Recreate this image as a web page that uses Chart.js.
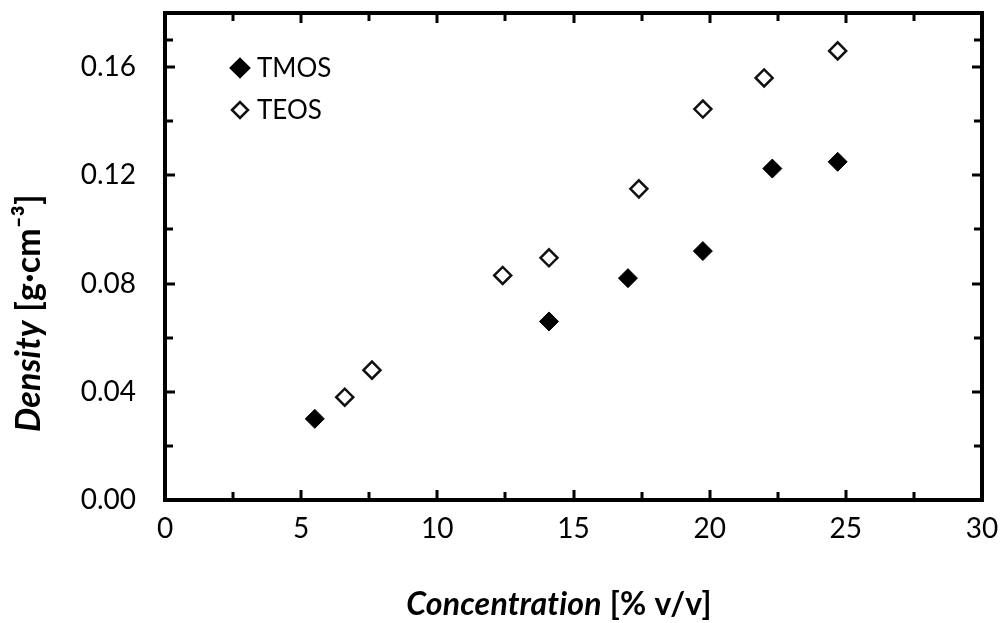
<!DOCTYPE html>
<html>
<head>
<meta charset="utf-8">
<script src="https://cdn.jsdelivr.net/npm/chart.js@4"></script>
<style>
  html, body { margin: 0; padding: 0; background: #fff; }
  #wrap { width: 1000px; height: 623px; }
</style>
</head>
<body>
<div id="wrap"><canvas id="chart"></canvas></div>
<script>
// data
const seriesNames = ['TMOS', 'TEOS'];
const tmosX = [5.5, 14.1, 17.0, 19.75, 22.3, 24.7];
const tmosY = [0.030, 0.066, 0.082, 0.092, 0.1225, 0.125];
const teosX = [6.6, 7.6, 12.4, 14.1, 17.4, 19.75, 22.0, 24.7];
const teosY = [0.038, 0.048, 0.083, 0.0895, 0.115, 0.1445, 0.156, 0.166];
const xTicks = [0, 5, 10, 15, 20, 25, 30];
const yTicks = [0, 0.04, 0.08, 0.12, 0.16];
const xTitle = ['Concentration', ' [% v/v]'];
const yTitle = ['Density', ' [g\u00b7cm\u207b\u00b3]'];

const FONT = 'Lato, "Noto Sans", sans-serif';

const toPoints = (xs, ys) => xs.map((x, i) => ({ x: x, y: ys[i] }));

// keep chart area fixed: drop the label overflow padding chart.js adds
const noPad = s => { s.paddingLeft = s.paddingRight = s.paddingTop = s.paddingBottom = 0; };

// box frame, inward ticks on all four sides, legend and two-style axis titles
const framePlugin = {
  id: 'frame',
  afterDraw(chart) {
    const ctx = chart.ctx;
    const a = chart.chartArea;
    const xs = chart.scales.x, ys = chart.scales.y;
    ctx.save();
    ctx.strokeStyle = '#000';
    ctx.lineCap = 'butt';

    // ticks (major at labels, minor halfway)
    ctx.lineWidth = 3;
    const xt = [];
    xTicks.forEach((v, i) => {
      xt.push([v, 10]);
      if (i < xTicks.length - 1) xt.push([(v + xTicks[i + 1]) / 2, 8]);
    });
    xt.forEach(([v, len]) => {
      const px = Math.round(xs.getPixelForValue(v));
      ctx.beginPath();
      ctx.moveTo(px, a.bottom); ctx.lineTo(px, a.bottom - len);
      ctx.moveTo(px, a.top); ctx.lineTo(px, a.top + len);
      ctx.stroke();
    });
    const yt = [];
    yTicks.forEach((v, i) => {
      yt.push([v, 10]);
      const next = i < yTicks.length - 1 ? yTicks[i + 1] : ys.max;
      yt.push([(v + next) / 2, 8]);
    });
    yt.forEach(([v, len]) => {
      const py = Math.round(ys.getPixelForValue(v));
      ctx.beginPath();
      ctx.moveTo(a.left, py); ctx.lineTo(a.left + len, py);
      ctx.moveTo(a.right, py); ctx.lineTo(a.right - len, py);
      ctx.stroke();
    });

    // frame
    ctx.lineWidth = 4;
    ctx.strokeRect(a.left, a.top, a.right - a.left, a.bottom - a.top);

    // legend
    ctx.font = '26px ' + FONT;
    ctx.textBaseline = 'middle';
    ctx.textAlign = 'left';
    ctx.fillStyle = '#000';
    chart.data.datasets.forEach((ds, i) => {
      const cx = 240, cy = 68 + i * 42;
      Chart.helpers.drawPoint(ctx, {
        pointStyle: 'rectRot', radius: 8, borderWidth: ds.borderWidth
      }, cx, cy);
      ctx.fillStyle = ds.backgroundColor;
      ctx.strokeStyle = ds.borderColor;
      ctx.lineWidth = ds.borderWidth;
      ctx.fill();
      ctx.stroke();
      ctx.fillStyle = '#000';
      ctx.fillText(ds.label, cx + 17, cy + 1);
    });

    // axis titles: italic bold name + bold units
    const drawTitle = (parts, size, cx, cy, rot) => {
      const f1 = 'italic bold ' + size + 'px ' + FONT, f2 = 'bold ' + size + 'px ' + FONT;
      ctx.save();
      ctx.translate(cx, cy);
      ctx.rotate(rot);
      ctx.letterSpacing = '0.2px';
      ctx.font = f1; const w1 = ctx.measureText(parts[0]).width;
      ctx.font = f2; const w2 = ctx.measureText(parts[1]).width;
      let x0 = -(w1 + w2) / 2;
      ctx.textAlign = 'left';
      ctx.textBaseline = 'middle';
      ctx.fillStyle = '#000';
      ctx.font = f1; ctx.fillText(parts[0], x0, 0);
      ctx.font = f2; ctx.fillText(parts[1], x0 + w1, 0);
      ctx.restore();
    };
    drawTitle(xTitle, 32, 559, 605, 0);
    drawTitle(yTitle, 34, 29, 313, -Math.PI / 2);

    ctx.restore();
  }
};

new Chart(document.getElementById('chart'), {
  type: 'scatter',
  data: {
    datasets: [
      {
        label: seriesNames[0],
        data: toPoints(tmosX, tmosY),
        pointStyle: 'rectRot',
        pointRadius: 9.5,
        backgroundColor: '#000',
        borderColor: '#000',
        borderWidth: 1
      },
      {
        label: seriesNames[1],
        data: toPoints(teosX, teosY),
        pointStyle: 'rectRot',
        pointRadius: 8.5,
        backgroundColor: '#fff',
        borderColor: '#111',
        borderWidth: 2.5
      }
    ]
  },
  options: {
    responsive: true,
    maintainAspectRatio: false,
    animation: false,
    layout: { padding: { top: 13, right: 18, left: 0, bottom: 0 } },
    plugins: {
      legend: { display: false },
      tooltip: { enabled: false }
    },
    scales: {
      x: {
        type: 'linear',
        min: 0, max: 30,
        afterBuildTicks: s => { s.ticks = xTicks.map(v => ({ value: v })); },
        afterFit: s => { s.height = 123; noPad(s); },
        grid: { display: false, drawTicks: false },
        border: { display: false },
        ticks: {
          padding: 12,
          color: '#000',
          font: { family: FONT, size: 28 },
          maxRotation: 0,
          callback: v => String(v)
        }
      },
      y: {
        type: 'linear',
        min: 0, max: 0.18,
        afterBuildTicks: s => { s.ticks = yTicks.map(v => ({ value: v })); },
        afterFit: s => { s.width = 165; noPad(s); },
        grid: { display: false, drawTicks: false },
        border: { display: false },
        ticks: {
          padding: 29,
          color: '#000',
          font: { family: FONT, size: 28 },
          callback: v => v.toFixed(2)
        }
      }
    }
  },
  plugins: [framePlugin]
});
</script>
</body>
</html>
